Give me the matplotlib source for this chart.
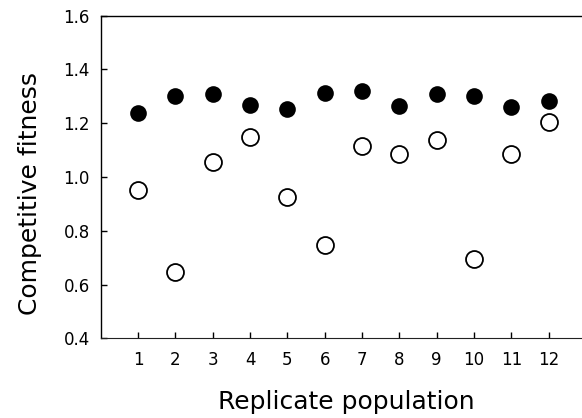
import matplotlib
matplotlib.use("Agg")
import matplotlib.pyplot as plt

# Data
populations = [1, 2, 3, 4, 5, 6, 7, 8, 9, 10, 11, 12]
fitness_filled = [1.238, 1.303, 1.307, 1.269, 1.252, 1.311, 1.320, 1.265, 1.307, 1.302, 1.260, 1.282]
fitness_open = [0.951, 0.647, 1.055, 1.147, 0.927, 0.747, 1.116, 1.085, 1.139, 0.695, 1.087, 1.206]
xticks = [1, 2, 3, 4, 5, 6, 7, 8, 9, 10, 11, 12]
yticks = [0.4, 0.6, 0.8, 1.0, 1.2, 1.4, 1.6]
ytick_labels = ["0.4", "0.6", "0.8", "1.0", "1.2", "1.4", "1.6"]

plt.rcParams['font.family'] = ['DejaVu Sans']

W, H = 582, 418
fig = plt.figure(figsize=(W / 100, H / 100), dpi=100)
left_px, right_px, top_px, bottom_px = 100.8, 586.0, 15.7, 338.3
ax = fig.add_axes([left_px / W, 1 - bottom_px / H,
                   (right_px - left_px) / W, (bottom_px - top_px) / H])

ax.plot(populations, fitness_open, linestyle='none', marker='o', markersize=12.2,
        markerfacecolor='white', markeredgecolor='black', markeredgewidth=1.3, zorder=3)
ax.plot(populations, fitness_filled, linestyle='none', marker='o', markersize=12,
        markerfacecolor='black', markeredgecolor='black', markeredgewidth=0, zorder=3)

ax.set_xlim(0, 13)
ax.set_ylim(0.4, 1.6)
ax.set_xticks(xticks)
ax.set_xticklabels([str(v) for v in xticks])
ax.set_yticks(yticks)
ax.set_yticklabels(ytick_labels)

ax.tick_params(axis='both', direction='in', length=4.5, width=1.0, labelsize=12, colors='black')
ax.tick_params(axis='y', pad=8.0)
ax.tick_params(axis='x', pad=9.5)

for side in ['left', 'top', 'right']:
    ax.spines[side].set_linewidth(1.0)
    ax.spines[side].set_color('black')
ax.spines['bottom'].set_linewidth(0.8)
ax.spines['bottom'].set_color('#222222')

ax.set_xlabel('Replicate population', fontsize=18)
ax.set_ylabel('Competitive fitness', fontsize=18)
ax.xaxis.set_label_coords(0.505, -0.160)
ax.yaxis.set_label_coords(-0.122, 0.449)

fig.savefig('out.png', dpi=100)
